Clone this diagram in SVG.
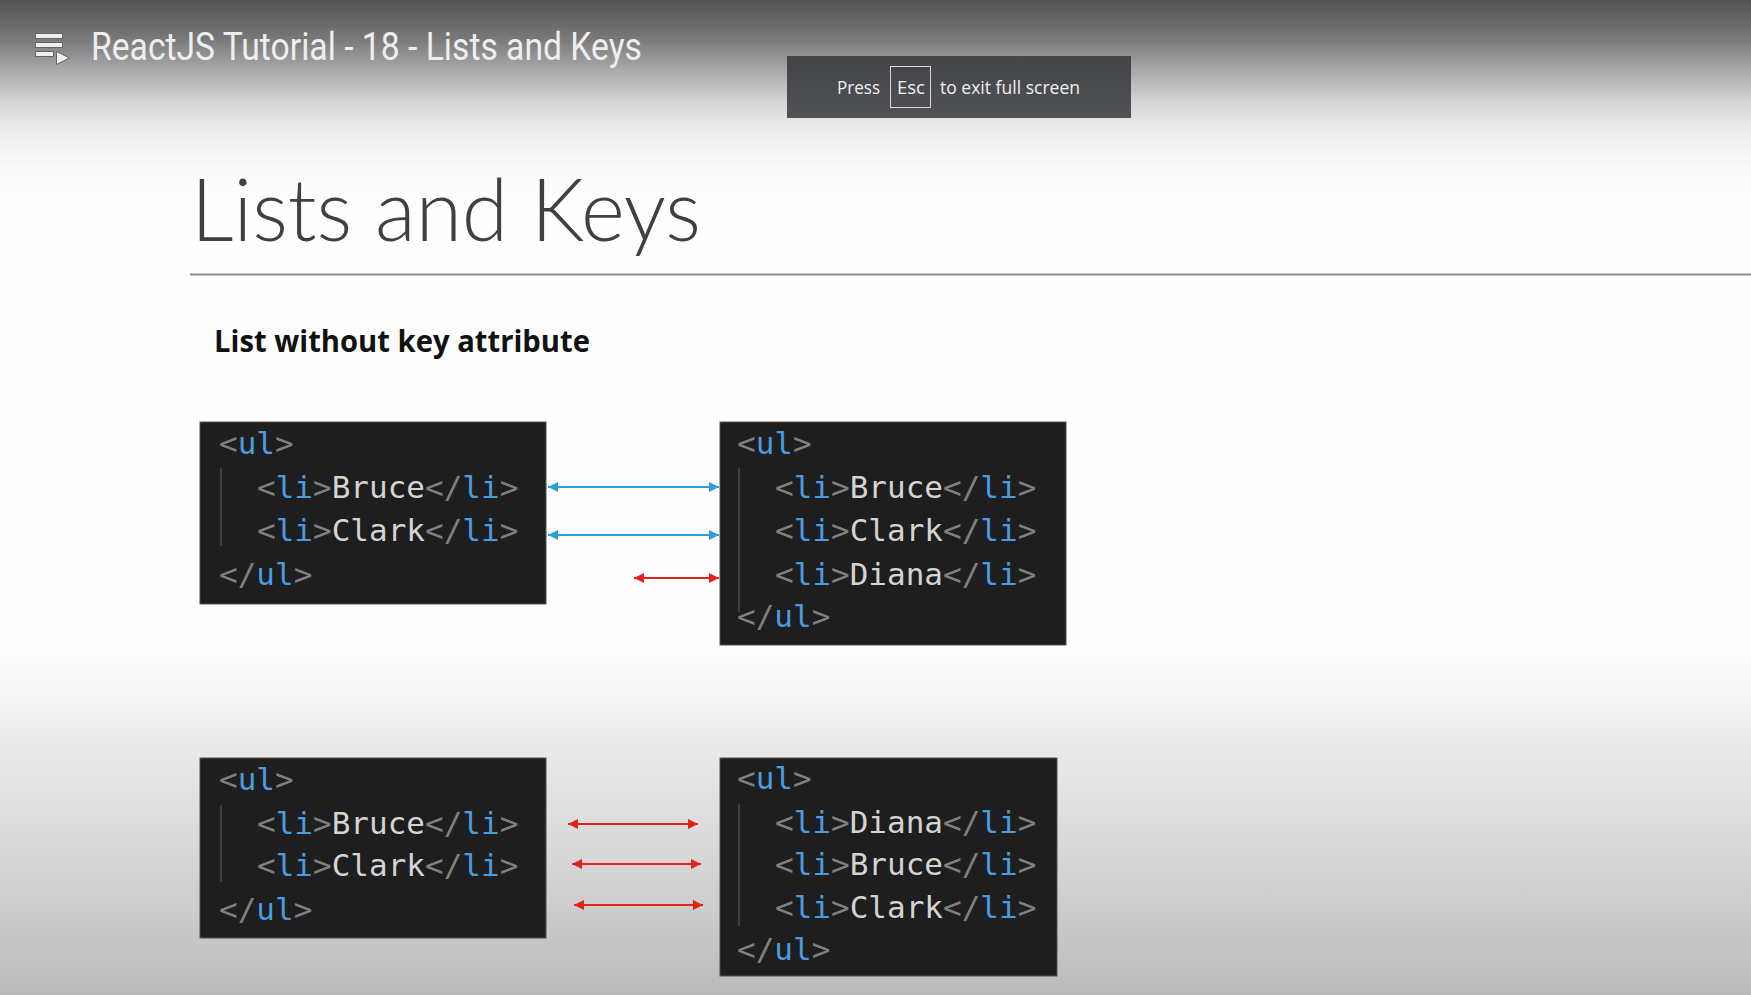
<svg xmlns="http://www.w3.org/2000/svg" width="1751" height="995" viewBox="0 0 1751 995">
<style>
.code{font-family:"DejaVu Sans Mono","Liberation Mono",monospace;font-size:31px;fill:#d4d4d4}
.p{fill:#808080}
.t{fill:#4a9be0}
.box{fill:#1e1e1e;stroke:#505050;stroke-width:1}
.guide{stroke:#4a4a4a;stroke-width:1.5}
.blue{stroke:#2a9fdc;stroke-width:2;fill:none;marker-start:url(#hb);marker-end:url(#hb)}
.red{stroke:#e3231b;stroke-width:2;fill:none;marker-start:url(#hr);marker-end:url(#hr)}
</style>
<defs>
<linearGradient id="bg" x1="0" y1="0" x2="0" y2="1">
<stop offset="0" stop-color="#525252"/>
<stop offset="0.04" stop-color="#7a7a7a"/>
<stop offset="0.07" stop-color="#a8a8a8"/>
<stop offset="0.10" stop-color="#d2d2d2"/>
<stop offset="0.13" stop-color="#ececec"/>
<stop offset="0.17" stop-color="#fafafa"/>
<stop offset="0.20" stop-color="#fefefe"/>
<stop offset="0.65" stop-color="#fefefe"/>
<stop offset="0.70" stop-color="#f6f6f6"/>
<stop offset="0.75" stop-color="#eaeaea"/>
<stop offset="0.85" stop-color="#d9d9d9"/>
<stop offset="0.95" stop-color="#c5c5c5"/>
<stop offset="1" stop-color="#bababa"/>
</linearGradient>
<linearGradient id="ban" x1="0" y1="0" x2="0" y2="1">
<stop offset="0" stop-color="#424448"/>
<stop offset="1" stop-color="#505256"/>
</linearGradient>
<marker id="hb" viewBox="0 0 10 10" refX="10" refY="5" markerWidth="5" markerHeight="5" orient="auto-start-reverse" markerUnits="strokeWidth">
<path d="M0,0 L10,5 L0,10 Z" fill="#2a9fdc"/>
</marker>
<marker id="hr" viewBox="0 0 10 10" refX="10" refY="5" markerWidth="5" markerHeight="5" orient="auto-start-reverse" markerUnits="strokeWidth">
<path d="M0,0 L10,5 L0,10 Z" fill="#e3231b"/>
</marker>
</defs>
<rect x="0" y="0" width="1751" height="995" fill="url(#bg)"/>

<g id="player-header">
<g fill="#eeeeee" stroke="#666" stroke-width="1">
<rect x="35.5" y="33.5" width="27" height="5"/>
<rect x="35.5" y="42.5" width="27" height="5"/>
<rect x="35.5" y="51.5" width="18" height="5"/>
<path d="M56.5,51.5 L69.5,58 L56.5,64.5 Z"/>
</g>
<text x="91" y="60" font-family="Roboto, 'Noto Sans', sans-serif" font-size="38" fill="#eeeeee" textLength="551" lengthAdjust="spacingAndGlyphs">ReactJS Tutorial - 18 - Lists and Keys</text>
</g>

<g id="esc-banner">
<rect x="787" y="56" width="344" height="62" fill="url(#ban)"/>
<rect x="890.5" y="66.5" width="40" height="41" fill="none" stroke="#d8d8d8" stroke-width="1"/>
<g font-family="'Open Sans','Noto Sans',sans-serif" font-size="18.5" fill="#f0f0f0">
<text x="837" y="94" textLength="43" lengthAdjust="spacingAndGlyphs">Press</text>
<text x="897" y="94" textLength="28" lengthAdjust="spacingAndGlyphs">Esc</text>
<text x="940" y="94" textLength="140" lengthAdjust="spacingAndGlyphs">to exit full screen</text>
</g>
</g>

<g id="slide-title">
<text x="191" y="241" font-family="Lato, 'Open Sans', sans-serif" font-weight="300" font-size="86" fill="#404040" textLength="510" lengthAdjust="spacingAndGlyphs">Lists and Keys</text>
<line x1="190" y1="274.5" x2="1751" y2="274.5" stroke="#8a8a8a" stroke-width="2"/>
</g>

<g id="subtitle">
<text x="214" y="352" font-family="'Open Sans','Noto Sans',sans-serif" font-weight="700" font-size="30" fill="#111111" textLength="376" lengthAdjust="spacingAndGlyphs">List without key attribute</text>
</g>

<g id="box-top-left">
<rect class="box" x="200" y="422" width="346" height="182"/>
<line class="guide" x1="221" y1="468" x2="221" y2="546"/>
<text class="code" x="219" y="454"><tspan class="p">&lt;</tspan><tspan class="t">ul</tspan><tspan class="p">&gt;</tspan></text>
<text class="code" x="257" y="497.5"><tspan class="p">&lt;</tspan><tspan class="t">li</tspan><tspan class="p">&gt;</tspan>Bruce<tspan class="p">&lt;/</tspan><tspan class="t">li</tspan><tspan class="p">&gt;</tspan></text>
<text class="code" x="257" y="541"><tspan class="p">&lt;</tspan><tspan class="t">li</tspan><tspan class="p">&gt;</tspan>Clark<tspan class="p">&lt;/</tspan><tspan class="t">li</tspan><tspan class="p">&gt;</tspan></text>
<text class="code" x="219" y="584.5"><tspan class="p">&lt;/</tspan><tspan class="t">ul</tspan><tspan class="p">&gt;</tspan></text>
</g>

<g id="box-top-right">
<rect class="box" x="720" y="422" width="346" height="223"/>
<line class="guide" x1="739" y1="468" x2="739" y2="612"/>
<text class="code" x="737" y="454"><tspan class="p">&lt;</tspan><tspan class="t">ul</tspan><tspan class="p">&gt;</tspan></text>
<text class="code" x="775" y="497.5"><tspan class="p">&lt;</tspan><tspan class="t">li</tspan><tspan class="p">&gt;</tspan>Bruce<tspan class="p">&lt;/</tspan><tspan class="t">li</tspan><tspan class="p">&gt;</tspan></text>
<text class="code" x="775" y="541"><tspan class="p">&lt;</tspan><tspan class="t">li</tspan><tspan class="p">&gt;</tspan>Clark<tspan class="p">&lt;/</tspan><tspan class="t">li</tspan><tspan class="p">&gt;</tspan></text>
<text class="code" x="775" y="584.5"><tspan class="p">&lt;</tspan><tspan class="t">li</tspan><tspan class="p">&gt;</tspan>Diana<tspan class="p">&lt;/</tspan><tspan class="t">li</tspan><tspan class="p">&gt;</tspan></text>
<text class="code" x="737" y="627"><tspan class="p">&lt;/</tspan><tspan class="t">ul</tspan><tspan class="p">&gt;</tspan></text>
</g>

<g id="box-bottom-left">
<rect class="box" x="200" y="758" width="346" height="180"/>
<line class="guide" x1="221" y1="805" x2="221" y2="882"/>
<text class="code" x="219" y="790"><tspan class="p">&lt;</tspan><tspan class="t">ul</tspan><tspan class="p">&gt;</tspan></text>
<text class="code" x="257" y="833.5"><tspan class="p">&lt;</tspan><tspan class="t">li</tspan><tspan class="p">&gt;</tspan>Bruce<tspan class="p">&lt;/</tspan><tspan class="t">li</tspan><tspan class="p">&gt;</tspan></text>
<text class="code" x="257" y="876"><tspan class="p">&lt;</tspan><tspan class="t">li</tspan><tspan class="p">&gt;</tspan>Clark<tspan class="p">&lt;/</tspan><tspan class="t">li</tspan><tspan class="p">&gt;</tspan></text>
<text class="code" x="219" y="919.5"><tspan class="p">&lt;/</tspan><tspan class="t">ul</tspan><tspan class="p">&gt;</tspan></text>
</g>

<g id="box-bottom-right">
<rect class="box" x="720" y="758" width="337" height="218"/>
<line class="guide" x1="739" y1="804" x2="739" y2="926"/>
<text class="code" x="737" y="789"><tspan class="p">&lt;</tspan><tspan class="t">ul</tspan><tspan class="p">&gt;</tspan></text>
<text class="code" x="775" y="832.5"><tspan class="p">&lt;</tspan><tspan class="t">li</tspan><tspan class="p">&gt;</tspan>Diana<tspan class="p">&lt;/</tspan><tspan class="t">li</tspan><tspan class="p">&gt;</tspan></text>
<text class="code" x="775" y="875"><tspan class="p">&lt;</tspan><tspan class="t">li</tspan><tspan class="p">&gt;</tspan>Bruce<tspan class="p">&lt;/</tspan><tspan class="t">li</tspan><tspan class="p">&gt;</tspan></text>
<text class="code" x="775" y="917.5"><tspan class="p">&lt;</tspan><tspan class="t">li</tspan><tspan class="p">&gt;</tspan>Clark<tspan class="p">&lt;/</tspan><tspan class="t">li</tspan><tspan class="p">&gt;</tspan></text>
<text class="code" x="737" y="960"><tspan class="p">&lt;/</tspan><tspan class="t">ul</tspan><tspan class="p">&gt;</tspan></text>
</g>

<g id="connectors">
<line class="blue" x1="548" y1="487" x2="719" y2="487"/>
<line class="blue" x1="548" y1="535" x2="719" y2="535"/>
<line class="red" x1="634" y1="578" x2="719" y2="578"/>
<line class="red" x1="568" y1="824" x2="698" y2="824"/>
<line class="red" x1="572" y1="864" x2="701" y2="864"/>
<line class="red" x1="574" y1="905" x2="703" y2="905"/>
</g>
</svg>
